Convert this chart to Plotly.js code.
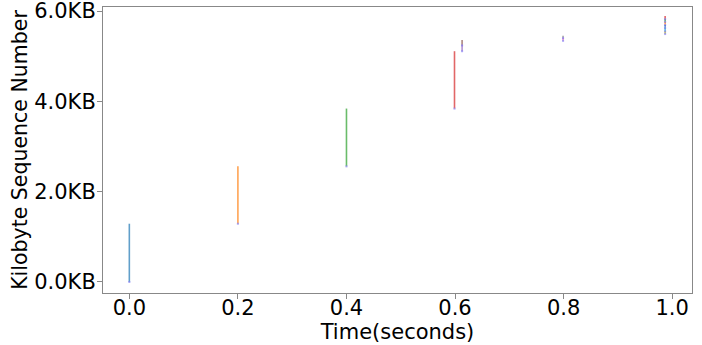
<!DOCTYPE html>
<html>
<head>
<meta charset="utf-8">
<script src="https://cdn.plot.ly/plotly-3.0.1.min.js"></script>
<style>
  html, body { margin: 0; padding: 0; background: #fff; }
  #chart { width: 702px; height: 345px; }
</style>
</head>
<body>
<div id="chart"></div>
<script>
// Packet send times (seconds)
const sendTimes = [0.0, 0.2, 0.4, 0.599, 0.613, 0.613, 0.799, 0.799, 0.987, 0.987, 0.987, 0.987, 0.987, 0.987];
// Sequence range start / end (KB)
const seqStart = [0.00, 1.29, 2.56, 3.84, 5.11, 5.24, 5.34, 5.40, 5.49, 5.55, 5.62, 5.69, 5.76, 5.82];
const seqEnd   = [1.29, 2.56, 3.84, 5.11, 5.24, 5.36, 5.40, 5.45, 5.55, 5.62, 5.69, 5.76, 5.82, 5.89];
// Matplotlib default colour cycle
const palette = ['#1f77b4', '#ff7f0e', '#2ca02c', '#d62728', '#9467bd', '#8c564b',
                 '#e377c2', '#7f7f7f', '#bcbd22', '#17becf'];
const yTicks = [0, 2, 4, 6];
const xTicks = [0, 0.2, 0.4, 0.6, 0.8, 1.0];

const traces = sendTimes.map((t, i) => ({
  type: 'scatter',
  mode: 'lines+markers',
  x: [t, t],
  y: [seqStart[i], seqEnd[i]],
  line: { color: palette[i % palette.length], width: 1.6 },
  marker: { color: ['rgba(90,80,240,0.7)', 'rgba(0,0,0,0)'], size: 2, symbol: 'square', line: { width: 0 } },
  opacity: 0.7,
  hoverinfo: 'skip',
  showlegend: false
}));

const tickFont = { family: 'DejaVu Sans, sans-serif', size: 21, color: '#000' };

const layout = {
  width: 702,
  height: 345,
  margin: { l: 103, r: 10, t: 7, b: 52 },
  paper_bgcolor: '#fff',
  plot_bgcolor: '#fff',
  showlegend: false,
  xaxis: {
    range: [-0.0485, 1.0365],
    tickvals: xTicks,
    ticktext: xTicks.map(v => v.toFixed(1)),
    ticks: 'outside', ticklen: 5, tickcolor: '#888', tickwidth: 1,
    ticklabelstandoff: -9,
    showgrid: false, zeroline: false,
    showline: true, linecolor: '#888', linewidth: 1, mirror: true,
    tickfont: tickFont,
    title: { text: 'Time(seconds)', font: { family: 'DejaVu Sans, sans-serif', size: 21, color: '#000' }, standoff: 0 }
  },
  yaxis: {
    range: [-0.244, 6.089],
    tickvals: yTicks,
    ticktext: yTicks.map(v => v.toFixed(1) + 'KB'),
    ticks: 'outside', ticklen: 5, tickcolor: '#888', tickwidth: 1,
    ticklabelstandoff: -3,
    ticklabeloverflow: 'allow',
    showgrid: false, zeroline: false,
    showline: true, linecolor: '#888', linewidth: 1, mirror: true,
    tickfont: tickFont,
    title: { text: 'Kilobyte Sequence Number', font: { family: 'DejaVu Sans, sans-serif', size: 20.5, color: '#000' }, standoff: 1 }
  }
};

Plotly.newPlot('chart', traces, layout, { displayModeBar: false, staticPlot: true });
</script>
</body>
</html>
